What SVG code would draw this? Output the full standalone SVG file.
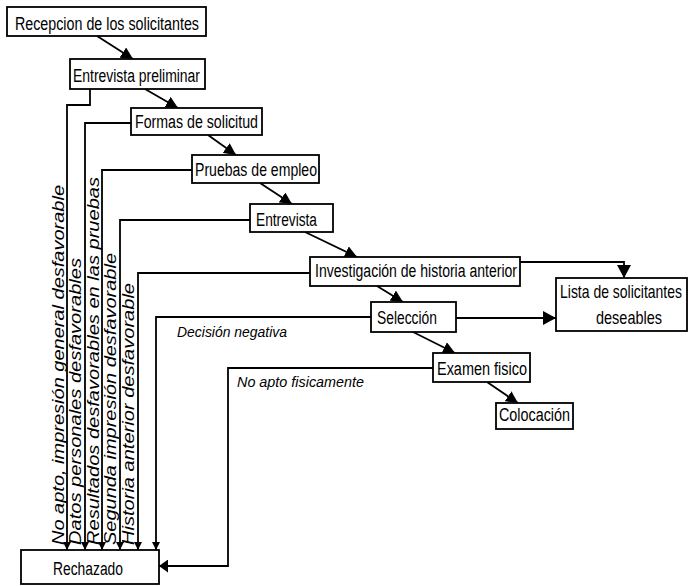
<svg xmlns="http://www.w3.org/2000/svg" width="689" height="586" viewBox="0 0 689 586">
<style>
  .box{fill:#fff;stroke:#000;stroke-width:1.8}
  .t{font-family:"Liberation Sans Narrow","Liberation Sans",Arial,sans-serif;font-size:18px;fill:#000}
  .it{font-family:"Liberation Sans",Arial,sans-serif;font-style:italic;font-size:17px;fill:#000}
  .hl{font-family:"Liberation Sans",Arial,sans-serif;font-style:italic;font-size:15px;fill:#000}
  .c{fill:none;stroke:#000;stroke-width:1.8}
</style>
<defs>
  <marker id="a" markerUnits="userSpaceOnUse" viewBox="0 0 12 12" refX="12" refY="6" markerWidth="12" markerHeight="12" orient="auto"><path d="M0,0 L12,6 L0,12 z" fill="#000"/></marker>
  <marker id="s" markerUnits="userSpaceOnUse" viewBox="0 0 8 8" refX="8" refY="4" markerWidth="8" markerHeight="8" orient="auto"><path d="M0,0 L8,4 L0,8 z" fill="#000"/></marker>
  <marker id="L" markerUnits="userSpaceOnUse" viewBox="0 0 13 14" refX="13" refY="7" markerWidth="13" markerHeight="14" orient="auto"><path d="M0,0 L13,7 L0,14 z" fill="#000"/></marker>
  <marker id="r" markerUnits="userSpaceOnUse" viewBox="0 0 9 13" refX="9" refY="6.5" markerWidth="9" markerHeight="13" orient="auto"><path d="M0,0 L9,6.5 L0,13 z" fill="#000"/></marker>
</defs>

<g id="connectors">
  <path class="c" d="M97,36 L133,59" marker-end="url(#a)"/>
  <path class="c" d="M145,89 L178,108" marker-end="url(#a)"/>
  <path class="c" d="M208,135 L236,155" marker-end="url(#a)"/>
  <path class="c" d="M260,183 L292,204" marker-end="url(#a)"/>
  <path class="c" d="M305,232 L357,257" marker-end="url(#a)"/>
  <path class="c" d="M377,286 L403,302" marker-end="url(#a)"/>
  <path class="c" d="M413,332 L455,353" marker-end="url(#a)"/>
  <path class="c" d="M487,382 L518,403" marker-end="url(#a)"/>
  <path class="c" d="M520,262 H624 V278" marker-end="url(#L)"/>
  <path class="c" d="M456,318 H556" marker-end="url(#L)"/>
  <path class="c" d="M90,89 V105 H67 V550" marker-end="url(#s)"/>
  <path class="c" d="M131,123 H85 V550" marker-end="url(#s)"/>
  <path class="c" d="M192,170 H102 V550" marker-end="url(#s)"/>
  <path class="c" d="M250,220 H120 V550" marker-end="url(#s)"/>
  <path class="c" d="M310,273 H138 V550" marker-end="url(#s)"/>
  <path class="c" d="M371,317 H156 V550" marker-end="url(#s)"/>
  <path class="c" d="M433,368 H228 V566 H159" marker-end="url(#r)"/>
  <text class="it" transform="translate(64,545) rotate(-90)" textLength="360" lengthAdjust="spacingAndGlyphs">No apto, impresión general desfavorable</text>
  <text class="it" transform="translate(81,545) rotate(-90)" textLength="287" lengthAdjust="spacingAndGlyphs">Datos personales desfavorables</text>
  <text class="it" transform="translate(99,545) rotate(-90)" textLength="368" lengthAdjust="spacingAndGlyphs">Resultados desfavorables en las pruebas</text>
  <text class="it" transform="translate(116,545) rotate(-90)" textLength="292" lengthAdjust="spacingAndGlyphs">Segunda impresión desfavorable</text>
  <text class="it" transform="translate(134,545) rotate(-90)" textLength="262" lengthAdjust="spacingAndGlyphs">Historia anterior desfavorable</text>
  <text class="hl" x="177" y="337" textLength="110" lengthAdjust="spacingAndGlyphs">Decisión negativa</text>
  <text class="hl" x="237" y="387" textLength="127" lengthAdjust="spacingAndGlyphs">No apto fisicamente</text>
</g>

<g id="recepcion"><rect class="box" x="7" y="7" width="199" height="29"/><text class="t" x="15" y="30" textLength="184" lengthAdjust="spacingAndGlyphs">Recepcion de los solicitantes</text></g>
<g id="entrevista-preliminar"><rect class="box" x="70" y="59" width="135" height="30"/><text class="t" x="73" y="82" textLength="127" lengthAdjust="spacingAndGlyphs">Entrevista preliminar</text></g>
<g id="formas"><rect class="box" x="131" y="108" width="131" height="27"/><text class="t" x="135" y="128" textLength="123" lengthAdjust="spacingAndGlyphs">Formas de solicitud</text></g>
<g id="pruebas"><rect class="box" x="192" y="155" width="127" height="28"/><text class="t" x="195" y="176" textLength="122" lengthAdjust="spacingAndGlyphs">Pruebas de empleo</text></g>
<g id="entrevista"><rect class="box" x="250" y="204" width="83" height="28"/><text class="t" x="256" y="226" textLength="61" lengthAdjust="spacingAndGlyphs">Entrevista</text></g>
<g id="investigacion"><rect class="box" x="310" y="257" width="210" height="29"/><text class="t" x="315" y="277" textLength="202" lengthAdjust="spacingAndGlyphs">Investigación de historia anterior</text></g>
<g id="seleccion"><rect class="box" x="371" y="302" width="85" height="30"/><text class="t" x="377" y="324" textLength="60" lengthAdjust="spacingAndGlyphs">Selección</text></g>
<g id="lista"><rect class="box" x="556" y="278" width="131" height="53"/><text class="t" transform="translate(560,298) scale(0.777,1)" textLength="157" lengthAdjust="spacingAndGlyphs">Lista de solicitantes</text><text class="t" transform="translate(596,324) scale(0.777,1)" textLength="85" lengthAdjust="spacingAndGlyphs">deseables</text></g>
<g id="examen"><rect class="box" x="433" y="353" width="97" height="29"/><text class="t" x="437" y="375" textLength="90" lengthAdjust="spacingAndGlyphs">Examen fisico</text></g>
<g id="colocacion"><rect class="box" x="496" y="403" width="77" height="26"/><text class="t" x="499" y="421" textLength="71" lengthAdjust="spacingAndGlyphs">Colocación</text></g>
<g id="rechazado"><rect class="box" x="21" y="550" width="138" height="34"/><text class="t" x="53" y="575" textLength="70" lengthAdjust="spacingAndGlyphs">Rechazado</text></g>
</svg>
